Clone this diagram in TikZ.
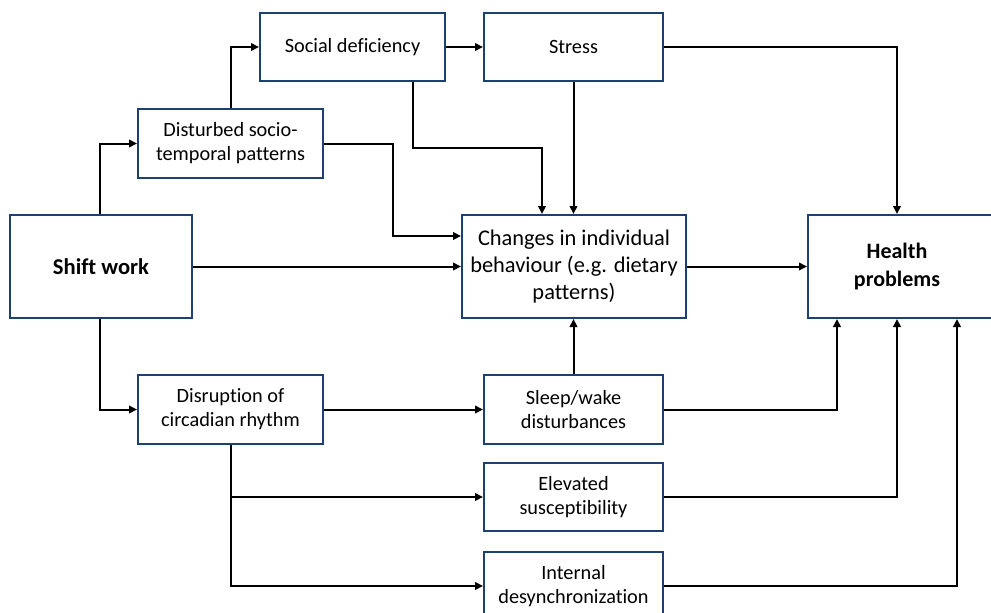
\documentclass[tikz,border=0pt]{standalone}
\usepackage{fontspec}
\setmainfont{Carlito}[Ligatures={NoCommon}]
\usetikzlibrary{arrows.meta}
\definecolor{boxblue}{RGB}{28,64,112}
\begin{document}
\begin{tikzpicture}[x=1pt,y=-1pt,
  box/.style={draw=boxblue,line width=2pt,fill=white,align=center,inner sep=2pt,
    font=\fontsize{20.3}{24}\selectfont},
  bigbox/.style={box,font=\fontsize{22.4}{27}\selectfont},
  arr/.style={draw=black,line width=2pt,-{Triangle[length=8pt,width=7.5pt]}}]
\useasboundingbox (0,0) rectangle (991,613);
\clip (0,0) rectangle (991,613);
\fill[white] (0,0) rectangle (991,613);

% nodes
\node[box,minimum width=185pt,minimum height=68pt] (soc) at (352.5,47) {Social deficiency};
\node[box,minimum width=179pt,minimum height=68pt] (str) at (573.5,47) {Stress};
\node[box,minimum width=185pt,minimum height=69pt] (dis) at (230.5,143.5) {Disturbed socio-\\temporal patterns};
\node[box,minimum width=182pt,minimum height=103pt,font=\fontsize{22.6}{27}\selectfont\bfseries] (shift) at (101,266.5) {Shift work};
\node[bigbox,minimum width=224pt,minimum height=103pt] (chg) at (574,266.5) {Changes in individual\\behaviour (e.g. dietary\\patterns)};
\node[draw=boxblue,line width=2pt,fill=white,minimum width=192pt,minimum height=103pt] (hp) at (904,266.5) {};
\node[align=center,font=\fontsize{22}{27.5}\selectfont\bfseries] (hpt) at (897,266.5) {Health\\problems};
\node[box,minimum width=185pt,minimum height=69pt] (dcr) at (230.5,409.5) {Disruption of\\circadian rhythm};
\node[box,minimum width=179pt,minimum height=69pt] (slp) at (573.5,409.5) {Sleep/wake\\disturbances};
\node[box,minimum width=179pt,minimum height=68pt] (elv) at (573.5,497) {Elevated\\susceptibility};
\node[box,minimum width=179pt,minimum height=68pt] (ind) at (573.5,586) {Internal\\desynchronization};

% helper coordinates
\coordinate (c1) at (542,148);
\coordinate (c2) at (393,236);

% connectors
\draw[arr] ([xshift=-1pt]shift.north) |- (dis.west);
\draw[arr] (dis.north) |- (soc.west);
\draw[arr] (soc.east) -- (str.west);
\draw[arr] ([xshift=60.5pt]soc.south) |- (c1) -- (c1 |- chg.north);
\draw[arr] (str.south) -- (str.south |- chg.north);
\draw[arr] (str.east) -| (hp.north -| hpt);
\draw[arr] (dis.east) -| (c2) -- (c2 -| chg.west);
\draw[arr] (shift.east) -- (chg.west);
\draw[arr] (chg.east) -- (hp.west);
\draw[arr] ([xshift=-1pt]shift.south) |- (dcr.west);
\draw[arr] (dcr.east) -- (slp.west);
\draw[arr] (slp.north) -- (slp.north |- chg.south);
\draw[arr] (slp.east) -| ([xshift=-67pt]hp.south);
\draw[arr] (dcr.south) |- (elv.west);
\draw[arr] (dcr.south) |- (ind.west);
\draw[arr] (elv.east) -| (hp.south -| hpt);
\draw[arr] (ind.east) -| ([xshift=53pt]hp.south);
\end{tikzpicture}
\end{document}
